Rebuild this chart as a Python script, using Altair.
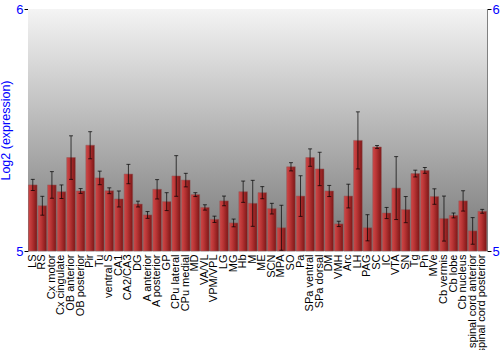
import altair as alt
import pandas as pd

regions = ["LS", "RS", "Cx motor", "Cx cingulate", "OB anterior", "OB posterior", "Pir", "Tu",
           "ventral S", "CA1", "CA2/CA3", "DG", "A anterior", "A posterior", "GP", "CPu lateral",
           "CPu medial", "MD", "VA/VL", "VPM/VPL", "LG", "MG", "Hb", "M", "ME", "SCN", "MPA", "SO",
           "Pa", "SPa ventral", "SPa dorsal", "DM", "VMH", "Arc", "LH", "PAG", "SC", "IC", "VTA",
           "SN", "Tg", "Pn", "MVe", "Cb vermis", "Cb lobe", "Cb nucleus", "spinal cord anterior",
           "spinal cord posterior"]
values = [5.273, 5.187, 5.273, 5.245, 5.386, 5.248, 5.437, 5.302,
          5.249, 5.215, 5.318, 5.194, 5.149, 5.255, 5.204, 5.310,
          5.293, 5.233, 5.180, 5.131, 5.207, 5.116, 5.245, 5.197, 5.241, 5.175, 5.096, 5.348,
          5.227, 5.386, 5.339, 5.248, 5.112, 5.227, 5.457, 5.096, 5.430, 5.157, 5.260,
          5.171, 5.320, 5.333, 5.225, 5.134, 5.147, 5.207, 5.083,
          5.164]
errors = [0.023, 0.039, 0.055, 0.028, 0.090, 0.010, 0.056, 0.028,
          0.012, 0.033, 0.040, 0.012, 0.014, 0.040, 0.037, 0.084,
          0.028, 0.008, 0.011, 0.013, 0.020, 0.016, 0.044, 0.095, 0.025, 0.022, 0.093, 0.017,
          0.084, 0.036, 0.069, 0.023, 0.011, 0.049, 0.118, 0.054, 0.006, 0.023, 0.130,
          0.054, 0.014, 0.012, 0.032, 0.093, 0.010, 0.042, 0.055,
          0.008]

df = pd.DataFrame({"region": regions, "value": values, "err": errors})
df["lo"] = df["value"] - df["err"]
df["hi"] = df["value"] + df["err"]
df["base"] = 5.0

W, H = 459, 242
FONT = "Liberation Sans"

xscale = alt.Scale(paddingInner=0.1, paddingOuter=0.05)
xaxis = alt.Axis(title=None, labelAngle=-90, labelFontSize=11, labelColor="black",
                 ticks=False, domain=False, labelPadding=3, labelFont=FONT,
                 labelAlign="right", labelBaseline="middle")
xenc = alt.X("region:N", sort=regions, scale=xscale, axis=xaxis)
yscale = alt.Scale(domain=[5, 6], zero=False, nice=False)

bg_grad = alt.Gradient(gradient="linear", x1=0, y1=0, x2=0, y2=1,
                       stops=[alt.GradientStop(offset=0, color="#f4f4f4"),
                              alt.GradientStop(offset=1, color="#767676")])
bar_grad = alt.Gradient(gradient="linear", x1=0, y1=0, x2=1, y2=0,
                        stops=[alt.GradientStop(offset=0, color="#d04848"),
                               alt.GradientStop(offset=0.4, color="#b83434"),
                               alt.GradientStop(offset=1, color="#7c1616")])

bg = alt.Chart(df).mark_rect(color=bg_grad).encode(
    x=alt.value(0), x2=alt.value(W), y=alt.value(0), y2=alt.value(H))

bars = alt.Chart(df).mark_bar(color=bar_grad, stroke="#8e5a5a", strokeWidth=0.5).encode(
    x=xenc,
    y=alt.Y("value:Q", scale=yscale,
            axis=alt.Axis(title="Log2 (expression)", values=[5, 6], format="d", labelColor="blue",
                          labelFontSize=13, labelFont=FONT, titleColor="blue", titleFontSize=12.5,
                          titleFont=FONT, titleFontWeight="normal", grid=False, tickSize=4,
                          tickColor="black", domainColor="#808080", labelPadding=1,
                          titlePadding=3, orient="left")),
    y2="base:Q")

rules = alt.Chart(df).mark_rule(color="black", opacity=0.7, strokeWidth=1).encode(
    x=xenc, y=alt.Y("lo:Q", scale=yscale, axis=None), y2="hi:Q")
caps_hi = alt.Chart(df).mark_tick(color="black", opacity=0.7, size=4, thickness=1).encode(
    x=xenc, y=alt.Y("hi:Q", scale=yscale, axis=None))
caps_lo = alt.Chart(df).mark_tick(color="black", opacity=0.7, size=4, thickness=1).encode(
    x=xenc, y=alt.Y("lo:Q", scale=yscale, axis=None))

right = alt.Chart(df).mark_point(opacity=0).encode(
    x=xenc,
    y=alt.Y("value:Q", scale=yscale,
            axis=alt.Axis(title=None, values=[5, 6], format="d", labelColor="blue", labelFontSize=13,
                          labelFont=FONT, grid=False, tickSize=4, tickColor="black",
                          domainColor="#808080", labelPadding=1, orient="right")))

chart = alt.layer(bg, bars, rules, caps_hi, caps_lo, right).resolve_axis(
    y="independent"
).properties(
    width=W, height=H,
    autosize=alt.AutoSizeParams(type="none"),
    padding={"left": 28, "top": 9, "right": 13, "bottom": 99},
).configure_view(stroke="#808080", strokeWidth=1).configure(font=FONT, background="white")

chart.save("out.html", embed_options={"renderer": "svg", "actions": False})
